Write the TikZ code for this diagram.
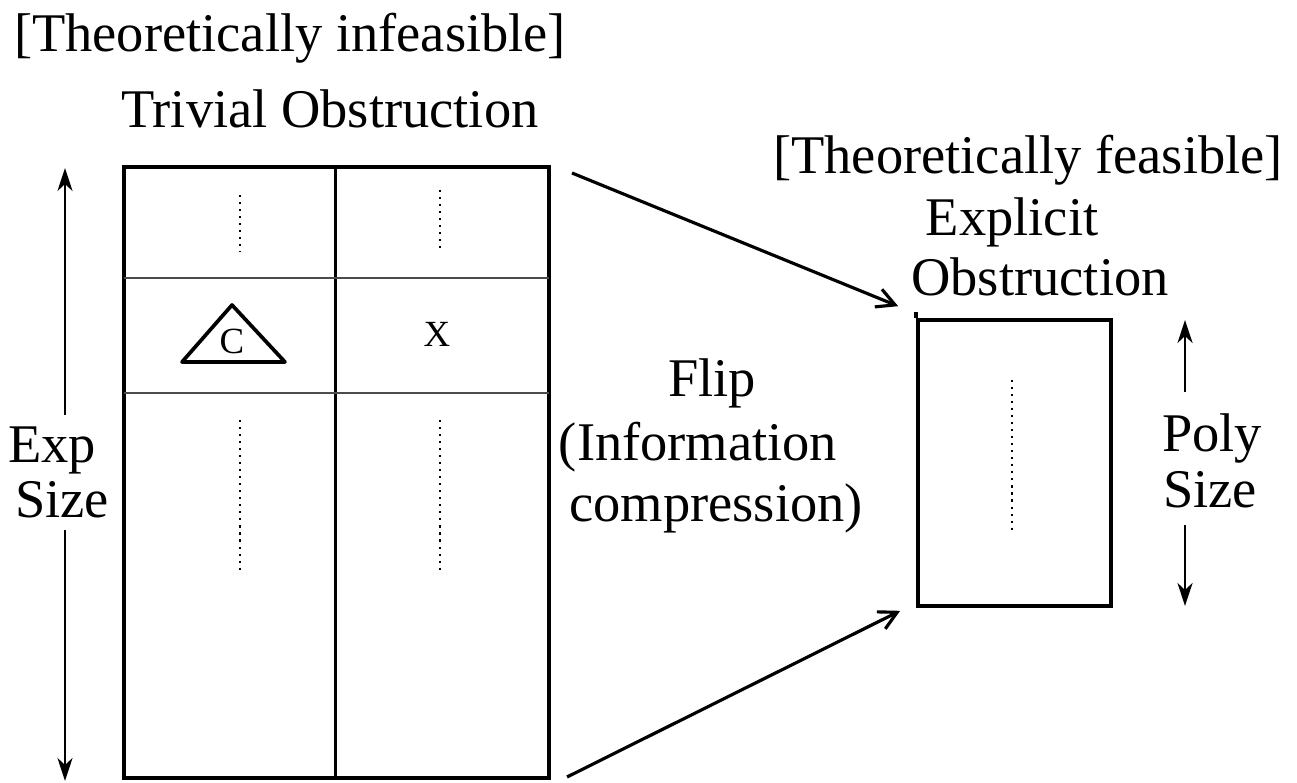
\documentclass[tikz,border=0pt]{standalone}
\usepackage{fontspec}
\setmainfont{Liberation Serif}
\usetikzlibrary{arrows.meta, positioning, calc}
\tikzset{
  obsbox/.style={
    rectangle, draw=black, line width=2.1pt, inner sep=0pt,
  },
  lbl/.style={
    font=\fontsize{31}{36}\selectfont, inner sep=0pt, align=center,
  },
  entry/.style={
    font=\fontsize{21}{24}\selectfont, inner sep=0pt,
  },
  gridline/.style={
    line width=0.9pt, draw=black!70,
  },
  dotcol/.style={
    line width=1.6pt, dash pattern=on 1.2pt off 2.8pt,
  },
  arrow/.style={
    -{Straight Barb[length=3.6mm, width=3.8mm]}, line width=1.8pt, draw=black,
  },
  sizearrow/.style={
    -{Stealth[length=4.6mm, width=3mm, inset=1.4mm]}, line width=1.6pt, draw=black,
  }
}

\begin{document}
\begin{tikzpicture}[x=0.02cm, y=-0.02cm]

  \useasboundingbox (0,0) rectangle (1297,783);

  % the two obstructions
  \node[obsbox, minimum width=8.5cm, minimum height=12.22cm] (triv) at (336.5, 472.5) {};
  \node[obsbox, minimum width=3.86cm, minimum height=5.72cm] (expl) at (1014.5, 463) {};
  \draw[line width=2.1pt] (expl.north west) -- ++(0,-6);

  % table inside the trivial obstruction
  \draw[line width=2.1pt] ($(triv.north)+(-1,0)$) -- ($(triv.south)+(-1,0)$);
  \draw[gridline] (124,278) -- (549,278);
  \draw[gridline] (124,393) -- (549,393);

  \draw[dotcol] (240,195) -- (240,252);
  \draw[dotcol] (440,190) -- (440,248);
  \draw[dotcol] (240,420) -- (240,572);
  \draw[dotcol] (440,420) -- (440,572);
  \draw[dotcol] (1012,380) -- (1012,532);

  \draw[line width=2.1pt, line join=round] (232,305) -- (285,362) -- (182,362) -- cycle;
  \node[entry] (c) at (232,341) {C};
  \node[entry] (x) at (437,334) {X};

  % labels
  \node[lbl] (infeas) at (290,38) {[Theoretically infeasible]};
  \node[lbl] (trivlbl) at (330,109) {Trivial Obstruction};
  \node[lbl] (feas) at (1028,160) {[Theoretically feasible]};
  \node[lbl] (expllbl) at (1012,222) {Explicit};
  \node[lbl] (obslbl) at (1040,277) {Obstruction};
  \node[lbl] (flip) at (712,383) {Flip};
  \node[lbl] (info) at (698,447) {(Information};
  \node[lbl] (compr) at (716,508) {compression)};
  \node[lbl] (exp) at (52,450) {Exp};
  \node[lbl] (expsize) at (62,500) {Size};
  \node[lbl] (poly) at (1212,438) {Poly};
  \node[lbl] (polysize) at (1210,490) {Size};

  % size arrows
  \coordinate (exptop) at (65,168);
  \coordinate (expbot) at (65,781);
  \draw[sizearrow] (65,415) -- (exptop);
  \draw[sizearrow] (65,530) -- (expbot);
  \coordinate (polytop) at (1185,320);
  \coordinate (polybot) at (1185,606);
  \draw[sizearrow] (1185,392) -- (polytop);
  \draw[sizearrow] (1185,525) -- (polybot);

  % flip
  \coordinate (upstart) at (572,173);
  \coordinate (lowstart) at (567,777);
  \draw[arrow] (upstart) -- ($(expl.north west)+(-18,-12)$);
  \draw[arrow] (lowstart) -- ($(expl.south west)+(-16,3)$);

\end{tikzpicture}
\end{document}
